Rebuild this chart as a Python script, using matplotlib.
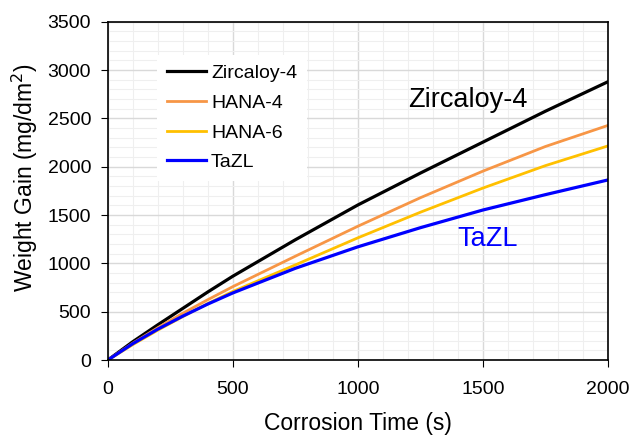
import numpy as np
import matplotlib.pyplot as plt
from matplotlib.ticker import MultipleLocator

plt.rcParams['font.family'] = ['Liberation Sans', 'DejaVu Sans']

# corrosion time (s) and weight gain (mg/dm2)
time = [0, 100, 200, 300, 400, 500, 750, 1000, 1250, 1500, 1750, 2000]
zircaloy4 = [0, 190, 365, 535, 705, 868, 1245, 1605, 1935, 2255, 2575, 2880]
hana4 = [0, 175, 335, 485, 625, 760, 1075, 1385, 1680, 1955, 2210, 2428]
hana6 = [0, 160, 310, 450, 585, 710, 985, 1265, 1530, 1780, 2012, 2216]
tazl = [0, 170, 320, 455, 580, 695, 950, 1172, 1370, 1553, 1712, 1864]

fig = plt.figure(figsize=(6.3, 4.36), dpi=100)
ax = fig.add_axes([0.171, 0.174, 0.794, 0.776])

ax.plot(time, zircaloy4, color='black', lw=2.3, label='Zircaloy-4')
ax.plot(time, hana4, color='#F79646', lw=2.0, label='HANA-4')
ax.plot(time, hana6, color='#FFC000', lw=2.0, label='HANA-6')
ax.plot(time, tazl, color='#0000FF', lw=2.3, label='TaZL')

ax.set_xlim(0, 2000)
ax.set_ylim(0, 3500)
ax.xaxis.set_major_locator(MultipleLocator(500))
ax.yaxis.set_major_locator(MultipleLocator(500))
ax.xaxis.set_minor_locator(MultipleLocator(100))
ax.yaxis.set_minor_locator(MultipleLocator(100))
ax.grid(which='major', color='#d9d9d9', lw=1.0)
ax.grid(which='minor', color='#efefef', lw=0.8)
ax.set_axisbelow(True)
ax.tick_params(which='major', direction='out', length=5, labelsize=14)
ax.tick_params(axis='x', pad=10)
ax.tick_params(axis='y', pad=7)
ax.tick_params(which='minor', length=0)
for s in ax.spines.values():
    s.set_linewidth(1.2)

ax.set_xlabel('Corrosion Time (s)', fontsize=16.5, labelpad=10)
ax.set_ylabel('Weight Gain (mg/dm$^2$)', fontsize=16.5)
ax.yaxis.set_label_coords(-0.136, 0.541)

ax.text(1200, 2690, 'Zircaloy-4', fontsize=19.5, va='center', ha='left')
ax.text(1396, 1250, 'TaZL', fontsize=19.5, va='center', ha='left', color='#0000FF')

leg = ax.legend(loc='upper left', bbox_to_anchor=(0.080, 0.931), fontsize=14,
                frameon=True, fancybox=False, edgecolor='none',
                handlelength=2.0, handletextpad=0.25, labelspacing=0.62,
                borderpad=0.5)
leg.get_frame().set_facecolor('white')
leg.get_frame().set_alpha(1)

fig.savefig('out.png', dpi=100)
